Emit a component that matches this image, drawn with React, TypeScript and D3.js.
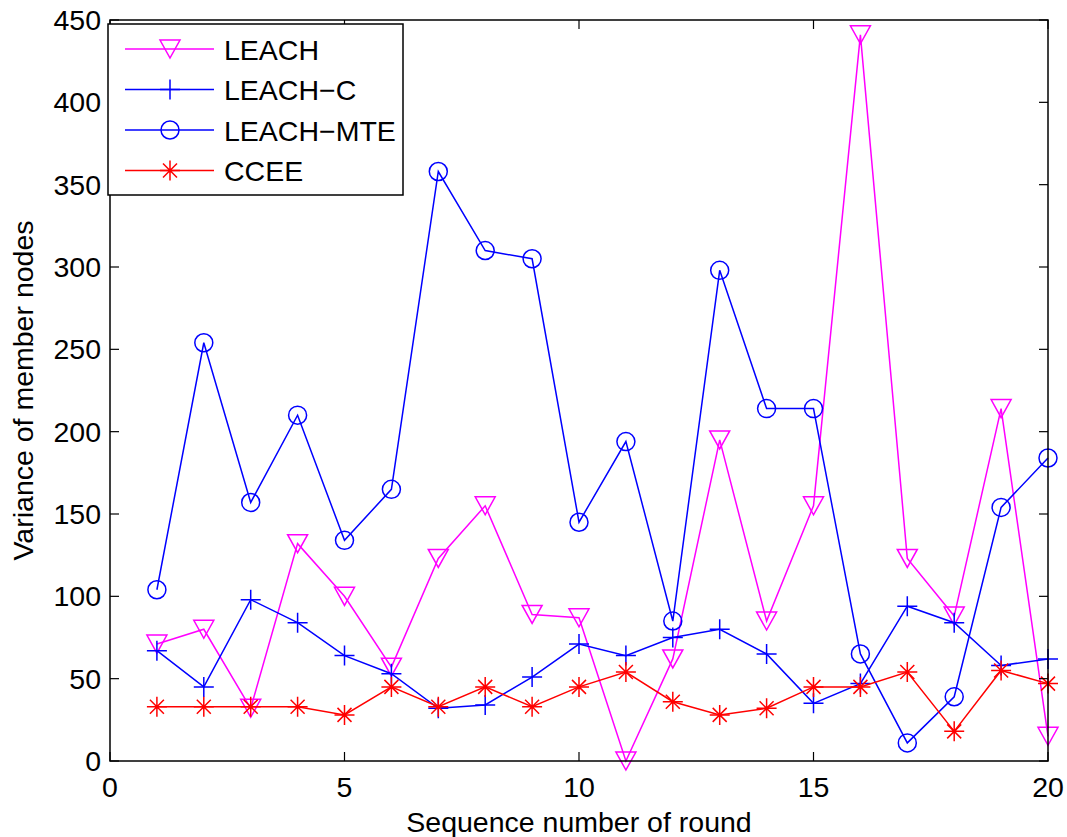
import React from "react";
import * as d3 from "d3";

const rounds = d3.range(1, 21);
const leach = [71, 80, 32, 132, 100, 57, 123, 155, 89, 87, 0, 62, 195, 85, 155, 441, 123, 88, 214, 15];
const leachC = [67, 45, 98, 84, 64, 53, 32, 34, 51, 71, 64, 75, 80, 65, 35, 47, 94, 84, 58, 62];
const leachMTE = [104, 254, 157, 210, 134, 165, 358, 310, 305, 145, 194, 85, 298, 214, 214, 65, 11, 39, 154, 184];
const ccee = [33, 33, 33, 33, 28, 45, 33, 45, 33, 45, 54, 36, 28, 32, 45, 45, 54, 18, 55, 47];
const xTicks = [0, 5, 10, 15, 20];
const yTicks = [0, 50, 100, 150, 200, 250, 300, 350, 400, 450];
const seriesNames = ["LEACH", "LEACH\u2212C", "LEACH\u2212MTE", "CCEE"];

const W = 1067, H = 837;
const L = 110, R = 1048, T = 20, B = 761;
const FONT = "'Liberation Sans', Arial, sans-serif";
const FS = 28.5;

type Marker = "tri" | "plus" | "circle" | "star";

function MarkerShape({ type, x, y, color }: { type: Marker; x: number; y: number; color: string }) {
  const sw = 1.5;
  if (type === "tri") {
    const w = 10, h = 9;
    return <path d={`M${x - w},${y - h}L${x + w},${y - h}L${x},${y + h}Z`} fill="none" stroke={color} strokeWidth={sw} />;
  }
  if (type === "circle") return <circle cx={x} cy={y} r={9} fill="none" stroke={color} strokeWidth={sw} />;
  if (type === "plus") {
    const s = 10;
    return <path d={`M${x - s},${y}L${x + s},${y}M${x},${y - s}L${x},${y + s}`} stroke={color} strokeWidth={sw} />;
  }
  const s = 10, d = 7;
  return (
    <path
      d={`M${x - s},${y}L${x + s},${y}M${x},${y - s}L${x},${y + s}M${x - d},${y - d}L${x + d},${y + d}M${x - d},${y + d}L${x + d},${y - d}`}
      stroke={color}
      strokeWidth={sw}
    />
  );
}

export default function App() {
  const x = d3.scaleLinear().domain([0, 20]).range([L, R]);
  const y = d3.scaleLinear().domain([0, 450]).range([B, T]);
  const line = d3
    .line<number>()
    .x((_, i) => x(rounds[i]))
    .y((d) => y(d));

  const series: { name: string; data: number[]; color: string; marker: Marker }[] = [
    { name: seriesNames[0], data: leach, color: "#ff00ff", marker: "tri" },
    { name: seriesNames[1], data: leachC, color: "#0000ff", marker: "plus" },
    { name: seriesNames[2], data: leachMTE, color: "#0000ff", marker: "circle" },
    { name: seriesNames[3], data: ccee, color: "#ff0000", marker: "star" },
  ];
  const tickLen = 9;

  return (
    <svg
      width={W}
      height={H}
      style={{ position: "absolute", left: 0, top: 0, background: "#fff" }}
      fontFamily={FONT}
    >
      <rect x={0} y={0} width={W} height={H} fill="#fff" />
      {series.map((s) => (
        <g key={s.name}>
          <path d={line(s.data) || ""} fill="none" stroke={s.color} strokeWidth={1.5} />
          {s.data.map((v, i) => (
            <MarkerShape key={i} type={s.marker} x={x(rounds[i])} y={y(v)} color={s.color} />
          ))}
        </g>
      ))}
      <rect x={L} y={T} width={R - L} height={B - T} fill="none" stroke="#000" strokeWidth={1.5} />
      {xTicks.map((t) => (
        <g key={"x" + t}>
          <line x1={x(t)} x2={x(t)} y1={B} y2={B - tickLen} stroke="#000" strokeWidth={1.2} />
          <line x1={x(t)} x2={x(t)} y1={T} y2={T + tickLen} stroke="#000" strokeWidth={1.2} />
          <text x={x(t)} y={797} textAnchor="middle" fontSize={FS} fill="#000">
            {t}
          </text>
        </g>
      ))}
      {yTicks.map((t) => (
        <g key={"y" + t}>
          <line x1={L} x2={L + tickLen} y1={y(t)} y2={y(t)} stroke="#000" strokeWidth={1.2} />
          <line x1={R} x2={R - tickLen} y1={y(t)} y2={y(t)} stroke="#000" strokeWidth={1.2} />
          <text x={L - 9} y={y(t) + 10} textAnchor="end" fontSize={FS} fill="#000">
            {t}
          </text>
        </g>
      ))}
      <text x={(L + R) / 2} y={832} textAnchor="middle" fontSize={FS} fill="#000">
        Sequence number of round
      </text>
      <text
        transform={`translate(33,${(T + B) / 2}) rotate(-90)`}
        textAnchor="middle"
        fontSize={FS}
        fill="#000"
      >
        Variance of member nodes
      </text>
      <g>
        <rect x={108} y={24} width={295} height={171} fill="#fff" stroke="#000" strokeWidth={1.5} />
        {series.map((s, i) => {
          const ly = 49 + i * 40.5;
          return (
            <g key={"lg" + i}>
              <line x1={125} x2={214} y1={ly} y2={ly} stroke={s.color} strokeWidth={1.5} />
              <MarkerShape type={s.marker} x={170} y={ly} color={s.color} />
              <text x={224} y={ly + 10.5} fontSize={FS} fill="#000">
                {s.name}
              </text>
            </g>
          );
        })}
      </g>
    </svg>
  );
}
